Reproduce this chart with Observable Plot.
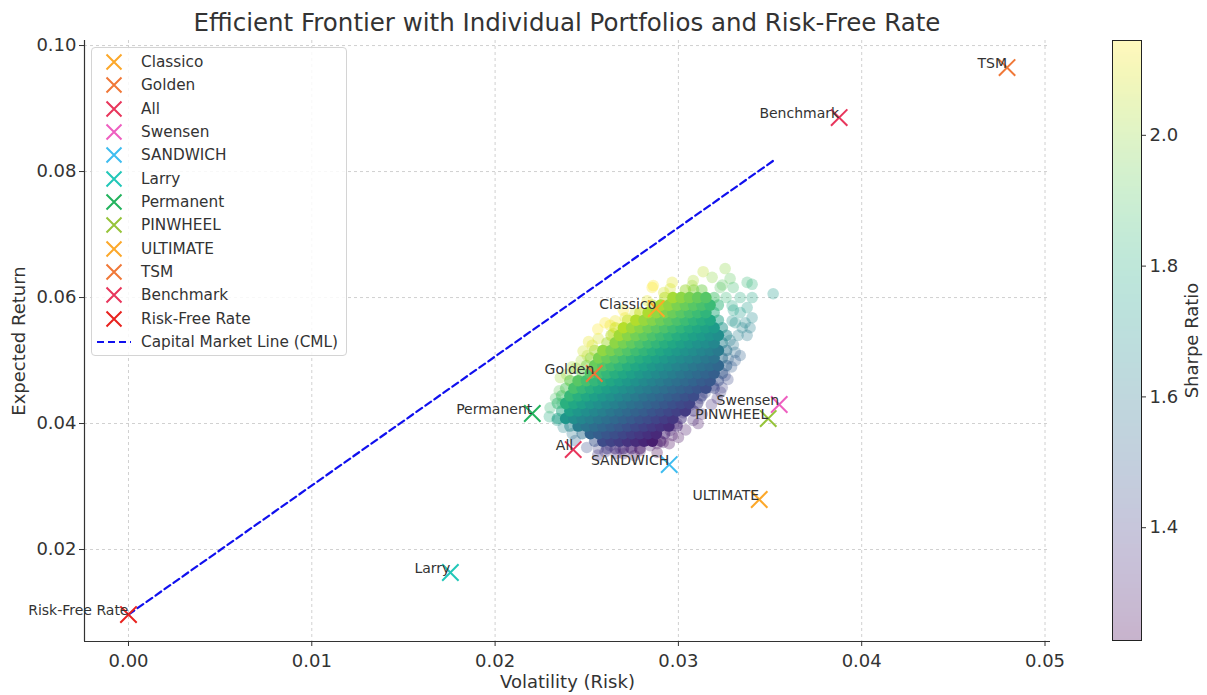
<!DOCTYPE html>
<html><head><meta charset="utf-8">
<script src="https://cdn.jsdelivr.net/npm/d3@7"></script>
<script src="https://cdn.jsdelivr.net/npm/@observablehq/plot@0.6"></script>
<style>
body{margin:0;background:#fff;font-family:"DejaVu Sans",sans-serif;}
#wrap{position:relative;width:1207px;height:695px;overflow:hidden;background:#fff;}
#title{position:absolute;left:84px;width:966px;top:8px;text-align:center;font-size:24.5px;color:#333;white-space:nowrap;}
#main{position:absolute;left:0;top:36px;}
#cbar{position:absolute;left:1100px;top:36px;}
#legend{position:absolute;left:91px;top:47px;width:256px;height:309px;border:1px solid #d4d4d4;border-radius:4px;background:rgba(255,255,255,0.85);box-sizing:border-box;}
.row{position:absolute;left:0;height:22px;width:250px;font-size:15.3px;color:#333;}
.row svg{position:absolute;left:4px;top:0;}
.row span{position:absolute;left:49px;top:2px;white-space:nowrap;}
</style></head>
<body>
<div id="wrap">
  <div id="title">Efficient Frontier with Individual Portfolios and Risk-Free Rate</div>
  <div id="main"></div>
  <div id="cbar"></div>
  <div id="legend"></div>
</div>
<script>
// ---- Data ----
const portfolios = ["Classico","Golden","All","Swensen","SANDWICH","Larry","Permanent","PINWHEEL","ULTIMATE","TSM","Benchmark","Risk-Free Rate"];
const volatility = [0.02879,0.02541,0.02426,0.03550,0.02950,0.01756,0.02203,0.03490,0.03441,0.04793,0.03877,0.00000];
const expectedReturn = [0.05825,0.04794,0.03587,0.04302,0.03349,0.01635,0.04159,0.04079,0.02794,0.09651,0.08857,0.00968];
const markerColors = ["#fca82a","#f07838","#e8365c","#ee5fc0","#3fbdf0","#22c7b8","#23b35e","#96c43a","#fca82a","#f07838","#e8365c","#e8221e"];

const cmlVol = [0, 0.03517];
const cmlRet = [0.00968, 0.0817];

const xDomain = [-0.0024, 0.0503];
const yDomain = [0.0054, 0.1008];
const xTicks = [0, 0.01, 0.02, 0.03, 0.04, 0.05];
const yTicks = [0.02, 0.04, 0.06, 0.08, 0.10];
const sharpeRange = [1.2275, 2.145];
const sharpeTicks = [1.4, 1.6, 1.8, 2.0];

// Simulated portfolio cloud (dense core), one row per expected-return level
const cloudRowReturns = [0.0360,0.0372,0.0384,0.0396,0.0408,0.0420,0.0432,0.0444,0.0456,0.0468,0.0480,0.0492,0.0504,0.0516,0.0528,0.0540,0.0552,0.0564,0.0576,0.0588,0.0600,0.0612];
const cloudRowVols = [
"0.02610 0.02655 0.02700 0.02745 0.02790",
"0.02543 0.02588 0.02633 0.02678 0.02723 0.02768 0.02813 0.02858 0.02903",
"0.02475 0.02520 0.02565 0.02610 0.02655 0.02700 0.02745 0.02790 0.02835 0.02880 0.02925",
"0.02408 0.02453 0.02498 0.02543 0.02588 0.02633 0.02678 0.02723 0.02768 0.02813 0.02858 0.02903 0.02948 0.02993",
"0.02340 0.02385 0.02430 0.02475 0.02520 0.02565 0.02610 0.02655 0.02700 0.02745 0.02790 0.02835 0.02880 0.02925 0.02970 0.03015",
"0.02363 0.02408 0.02453 0.02498 0.02543 0.02588 0.02633 0.02678 0.02723 0.02768 0.02813 0.02858 0.02903 0.02948 0.02993 0.03038 0.03083",
"0.02340 0.02385 0.02430 0.02475 0.02520 0.02565 0.02610 0.02655 0.02700 0.02745 0.02790 0.02835 0.02880 0.02925 0.02970 0.03015 0.03060 0.03105",
"0.02363 0.02408 0.02453 0.02498 0.02543 0.02588 0.02633 0.02678 0.02723 0.02768 0.02813 0.02858 0.02903 0.02948 0.02993 0.03038 0.03083 0.03128",
"0.02385 0.02430 0.02475 0.02520 0.02565 0.02610 0.02655 0.02700 0.02745 0.02790 0.02835 0.02880 0.02925 0.02970 0.03015 0.03060 0.03105 0.03150 0.03195",
"0.02408 0.02453 0.02498 0.02543 0.02588 0.02633 0.02678 0.02723 0.02768 0.02813 0.02858 0.02903 0.02948 0.02993 0.03038 0.03083 0.03128 0.03173 0.03218",
"0.02475 0.02520 0.02565 0.02610 0.02655 0.02700 0.02745 0.02790 0.02835 0.02880 0.02925 0.02970 0.03015 0.03060 0.03105 0.03150 0.03195 0.03240",
"0.02498 0.02543 0.02588 0.02633 0.02678 0.02723 0.02768 0.02813 0.02858 0.02903 0.02948 0.02993 0.03038 0.03083 0.03128 0.03173 0.03218 0.03263",
"0.02520 0.02565 0.02610 0.02655 0.02700 0.02745 0.02790 0.02835 0.02880 0.02925 0.02970 0.03015 0.03060 0.03105 0.03150 0.03195 0.03240",
"0.02543 0.02588 0.02633 0.02678 0.02723 0.02768 0.02813 0.02858 0.02903 0.02948 0.02993 0.03038 0.03083 0.03128 0.03173 0.03218 0.03263",
"0.02610 0.02655 0.02700 0.02745 0.02790 0.02835 0.02880 0.02925 0.02970 0.03015 0.03060 0.03105 0.03150 0.03195 0.03240",
"0.02633 0.02678 0.02723 0.02768 0.02813 0.02858 0.02903 0.02948 0.02993 0.03038 0.03083 0.03128 0.03173 0.03218 0.03263",
"0.02655 0.02700 0.02745 0.02790 0.02835 0.02880 0.02925 0.02970 0.03015 0.03060 0.03105 0.03150 0.03195 0.03240",
"0.02723 0.02768 0.02813 0.02858 0.02903 0.02948 0.02993 0.03038 0.03083 0.03128 0.03173 0.03218",
"0.02790 0.02835 0.02880 0.02925 0.02970 0.03015 0.03060 0.03105 0.03150 0.03195",
"0.02858 0.02903 0.02948 0.02993 0.03038 0.03083 0.03128 0.03173 0.03218",
"0.02925 0.02970 0.03015 0.03060 0.03105 0.03150 0.03195",
"0.03038 0.03083 0.03128"
];
// Sparse outer portfolios of the cloud
const fringeVol = [0.03255,0.03135,0.03184,0.03282,0.03375,0.03402,0.03299,0.03228,0.03081,0.03075,0.02966,0.02955,0.02863,0.03517,0.03402,0.03337,0.03293,0.03375,0.03337,0.03402,0.03293,0.03364,0.03391,0.03348,0.03326,0.03375,0.03282,0.03310,0.03337,0.03272,0.03310,0.03255,0.03239,0.03190,0.03146,0.03119,0.03212,0.03064,0.03026,0.03108,0.02993,0.02955,0.02966,0.02884,0.02884,0.02356,0.02410,0.02454,0.02366,0.02296,0.02339,0.02372,0.02421,0.02437,0.02563,0.02628,0.02683,0.02737,0.02792,0.02846,0.02857,0.02764,0.02710,0.02655,0.02628,0.02645,0.02563,0.02530,0.02503,0.02440,0.02700,0.02830,0.02920,0.02917,0.02760,0.02660,
  0.02300,0.02330,0.02350,0.02390,0.02420,0.02470,0.02480,0.02510,0.02560,0.02600,0.03300,0.03290,0.03270,0.03230,0.03180,0.03130,0.03080,0.03040,0.03000,0.02950,0.03310,0.03300,0.03260,0.03240,0.02560,0.02600,0.02700,0.02500];
const fringeRet = [0.0646,0.0641,0.0632,0.0630,0.0624,0.0621,0.0616,0.0616,0.0627,0.0619,0.0624,0.0614,0.0619,0.0606,0.0600,0.0600,0.0587,0.0584,0.0576,0.0568,0.0563,0.0560,0.0552,0.0552,0.0540,0.0540,0.0532,0.0513,0.0508,0.0503,0.0500,0.0476,0.0457,0.0460,0.0449,0.0440,0.0440,0.0429,0.0417,0.0400,0.0400,0.0389,0.0381,0.0368,0.0354,0.0473,0.0468,0.0465,0.0432,0.0411,0.0405,0.0394,0.0384,0.0373,0.0360,0.0365,0.0360,0.0362,0.0357,0.0365,0.0616,0.0575,0.0568,0.0563,0.0556,0.0543,0.0535,0.0524,0.0508,0.0488,0.0580,0.0595,0.0608,0.0370,0.0349,0.0352,
  0.0425,0.0440,0.0452,0.0478,0.0490,0.0500,0.0515,0.0530,0.0550,0.0560,0.0525,0.0490,0.0470,0.0450,0.0430,0.0415,0.0405,0.0390,0.0378,0.0368,0.0560,0.0580,0.0600,0.0620,0.0350,0.0355,0.0352,0.0362];

// ---- Build tables ----
const cloud = [];
cloudRowReturns.forEach((r, i) => {
  const vols = cloudRowVols[i].trim().split(/\s+/).map(Number);
  const lastRow = i === 0 || i === cloudRowReturns.length - 1;
  vols.forEach((v, j) => cloud.push({vol: v, ret: r, edge: lastRow || j === 0 || j === vols.length - 1}));
});
const fringe = fringeVol.map((v, i) => ({vol: v, ret: fringeRet[i]}));
const pts = portfolios.map((name, i) => ({name, vol: volatility[i], ret: expectedReturn[i], color: markerColors[i]}));
const cml = cmlVol.map((v, i) => ({vol: v, ret: cmlRet[i]}));
const sharpe = d => d.ret / d.vol;

const font = '"DejaVu Sans", sans-serif';
const gridStyle = {stroke: "#c4c4c4", strokeOpacity: 1, strokeWidth: 0.8, strokeDasharray: "3,3"};
const main = Plot.plot({
  width: 1207, height: 659,
  marginLeft: 84, marginRight: 157, marginTop: 4, marginBottom: 54,
  style: {fontFamily: font, fontSize: "18px", color: "#333", background: "transparent", overflow: "visible"},
  x: {domain: xDomain},
  y: {domain: yDomain},
  color: {type: "linear", scheme: "viridis", domain: sharpeRange, clamp: true},
  marks: [
    Plot.gridX(xTicks, gridStyle),
    Plot.gridY(yTicks, gridStyle),
    Plot.dot(fringe, {x: "vol", y: "ret", r: 5.8, fill: sharpe, fillOpacity: 0.3}),
    Plot.dot(cloud.filter(d => d.edge), {x: "vol", y: "ret", r: 5.8, fill: sharpe, fillOpacity: 0.5}),
    Plot.dot(cloud.filter(d => !d.edge), {x: "vol", y: "ret", r: 5.8, fill: sharpe, fillOpacity: 1}),
    Plot.line(cml, {x: "vol", y: "ret", stroke: "#1010ee", strokeWidth: 2.2, strokeDasharray: "7,4"}),
    ...pts.map(p => Plot.dot([p], {x: "vol", y: "ret", symbol: "times", r: 7.5, stroke: p.color, strokeWidth: 2})),
    Plot.text(pts, {x: "vol", y: "ret", text: "name", textAnchor: "end", lineAnchor: "bottom", fontSize: 14, fill: "#333"}),
    Plot.ruleX([xDomain[0]], {stroke: "#333", strokeWidth: 1.2}),
    Plot.ruleY([yDomain[0]], {stroke: "#333", strokeWidth: 1.2}),
    Plot.axisX({ticks: xTicks, tickFormat: d3.format(".2f"), tickSize: 5, tickPadding: 8, fontSize: 18,
      label: "Volatility (Risk)", labelAnchor: "center", labelArrow: "none", labelOffset: 46}),
    Plot.axisY({ticks: yTicks, tickFormat: d3.format(".2f"), tickSize: 5, tickPadding: 3, fontSize: 18,
      label: "Expected Return", labelAnchor: "center", labelArrow: "none", labelOffset: 72})
  ]
});
document.getElementById("main").appendChild(main);

const cbar = Plot.plot({
  width: 107, height: 659,
  marginLeft: 12, marginRight: 66, marginTop: 4, marginBottom: 55,
  style: {fontFamily: font, fontSize: "18px", color: "#333", background: "transparent", overflow: "visible"},
  x: {domain: [0, 1], axis: null},
  y: {domain: sharpeRange},
  color: {type: "linear", scheme: "viridis", domain: sharpeRange},
  marks: [
    Plot.raster({fill: (x, y) => y, x1: 0, x2: 1, y1: sharpeRange[0], y2: sharpeRange[1], width: 2, height: 300, fillOpacity: 0.3, imageRendering: "auto"}),
    Plot.frame({stroke: "#222", strokeWidth: 1}),
    Plot.axisY({anchor: "right", ticks: sharpeTicks, tickFormat: d3.format(".1f"), tickSize: 4, tickPadding: 4, fontSize: 18,
      label: "Sharpe Ratio", labelAnchor: "center", labelArrow: "none", labelOffset: 56})
  ]
});
document.getElementById("cbar").appendChild(cbar);

// ---- Legend ----
const legend = document.getElementById("legend");
const rowStep = 23.33;
pts.forEach((p, i) => {
  const row = document.createElement("div");
  row.className = "row";
  row.style.top = (3 + i * rowStep) + "px";
  row.innerHTML = `<svg width="36" height="22"><path d="M10.5,3.5L25.5,18.5M25.5,3.5L10.5,18.5" stroke="${p.color}" stroke-width="2" fill="none"/></svg><span>${p.name}</span>`;
  legend.appendChild(row);
});
const cmlRow = document.createElement("div");
cmlRow.className = "row";
cmlRow.style.top = (3 + portfolios.length * rowStep) + "px";
cmlRow.innerHTML = `<svg width="40" height="22"><line x1="1" y1="11" x2="35" y2="11" stroke="#1010ee" stroke-width="2.2" stroke-dasharray="7,4"/></svg><span>Capital Market Line (CML)</span>`;
legend.appendChild(cmlRow);
</script>
</body></html>
